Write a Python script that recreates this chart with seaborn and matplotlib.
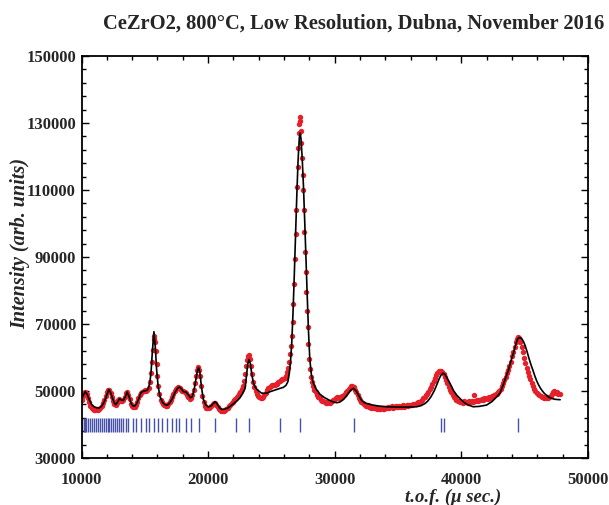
import numpy as np
import pandas as pd
import matplotlib
matplotlib.use("Agg")
import matplotlib.pyplot as plt
import seaborn as sns
from matplotlib.ticker import MultipleLocator, FixedLocator

# ---------------- data ----------------
obs_tof = [
    10000, 10100, 10200, 10300, 10400, 10500, 10600, 10700, 10800, 10900,
    11000, 11100, 11200, 11300, 11400, 11500, 11600, 11700, 11800, 11900,
    12000, 12100, 12200, 12300, 12400, 12500, 12600, 12700, 12800, 12900,
    13000, 13100, 13200, 13300, 13400, 13500, 13600, 13700, 13800, 13900,
    14000, 14100, 14200, 14300, 14400, 14500, 14600, 14700, 14800, 14900,
    15000, 15100, 15200, 15300, 15400, 15480, 15550, 15620, 15690, 15750,
    15810, 15870, 15930, 15990, 16060, 16150, 16250, 16350, 16450, 16550,
    16650, 16750, 16850, 16950, 17050, 17150, 17250, 17350, 17450, 17550,
    17650, 17750, 17850, 17950, 18050, 18150, 18250, 18350, 18450, 18550,
    18650, 18750, 18850, 18950, 19050, 19130, 19210, 19290, 19370, 19450,
    19550, 19650, 19750, 19850, 19950, 20050, 20150, 20250, 20350, 20450,
    20550, 20650, 20750, 20850, 20950, 21050, 21150, 21250, 21350, 21450,
    21550, 21650, 21750, 21850, 21950, 22050, 22150, 22250, 22350, 22450,
    22550, 22650, 22750, 22850, 22930, 23010, 23090, 23170, 23250, 23330,
    23410, 23490, 23570, 23650, 23750, 23850, 23950, 24050, 24150, 24250,
    24350, 24450, 24550, 24650, 24750, 24850, 24950, 25050, 25150, 25250,
    25350, 25450, 25550, 25650, 25750, 25850, 25950, 26050, 26150, 26250,
    26330, 26420, 26490, 26550, 26610, 26680, 26740, 26800, 26860, 26920,
    26970, 27020, 27070, 27120, 27170, 27210, 27240, 27270, 27310, 27360,
    27410, 27460, 27510, 27560, 27610, 27660, 27710, 27760, 27810, 27860,
    27920, 27980, 28050, 28130, 28210, 28300, 28400, 28500, 28600, 28700,
    28800, 28900, 29000, 29100, 29200, 29300, 29400, 29500, 29600, 29700,
    29800, 29900, 30000, 30100, 30200, 30300, 30400, 30500, 30600, 30700,
    30800, 30900, 31000, 31100, 31200, 31300, 31400, 31500, 31600, 31700,
    31800, 31900, 32000, 32100, 32200, 32300, 32400, 32500, 32600, 32700,
    32800, 32900, 33000, 33100, 33200, 33300, 33400, 33500, 33600, 33700,
    33800, 33900, 34000, 34100, 34200, 34300, 34400, 34500, 34600, 34700,
    34800, 34900, 35000, 35100, 35200, 35300, 35400, 35500, 35600, 35700,
    35800, 35900, 36000, 36100, 36200, 36300, 36400, 36500, 36600, 36700,
    36800, 36900, 37000, 37100, 37200, 37300, 37400, 37500, 37600, 37700,
    37800, 37900, 38000, 38100, 38200, 38300, 38400, 38500, 38600, 38700,
    38800, 38900, 39000, 39100, 39200, 39300, 39400, 39500, 39600, 39700,
    39800, 39900, 40000, 40100, 40200, 40300, 40400, 40500, 40600, 40700,
    40800, 40900, 41000, 41100, 41200, 41300, 41400, 41500, 41600, 41700,
    41800, 41900, 42000, 42100, 42200, 42300, 42400, 42500, 42600, 42700,
    42800, 42900, 43000, 43100, 43200, 43300, 43400, 43500, 43600, 43700,
    43800, 43900, 44000, 44100, 44200, 44300, 44400, 44480, 44560, 44650,
    44750, 44850, 44950, 45050, 45150, 45250, 45350, 45450, 45550, 45650,
    45750, 45850, 45950, 46050, 46150, 46250, 46350, 46450, 46550, 46650,
    46750, 46850, 46950, 47050, 47150, 47250, 47350, 47450, 47550, 47650,
    47750,
]
obs_int = [
    47200, 48400, 49300, 49600, 49000, 47900, 46600, 45600, 45000, 44600,
    44400, 44200, 44500, 44300, 44700, 45000, 45600, 46400, 47300, 48400,
    49600, 50400, 50200, 49300, 48100, 47000, 46200, 45800, 46500, 47400,
    47600, 47000, 46900, 47300, 48200, 49300, 49700, 48900, 47500, 46200,
    45400, 45100, 45300, 45800, 46700, 47800, 48900, 49500, 49800, 49900,
    50200, 50000, 50400, 51000, 52800, 55500, 58800, 62300, 65500, 66300,
    64700, 61800, 58000, 54500, 51400, 49000, 47400, 46600, 46000, 45700,
    45500, 45600, 46000, 46600, 47400, 48200, 49200, 50000, 50600, 51000,
    51200, 50800, 50300, 49900, 50000, 49600, 49400, 48800, 48200, 47700,
    47900, 48900, 50400, 52300, 54500, 56200, 57100, 56400, 54400, 51600,
    48600, 46600, 45500, 45000, 44800, 44900, 45200, 45600, 46100, 46500,
    46300, 45800, 45200, 44600, 44200, 44000, 44100, 43900, 44300, 44600,
    45000, 45400, 45900, 46300, 46800, 47200, 47700, 48200, 48500, 49000,
    49700, 50500, 51400, 52900, 55200, 57400, 59200, 60300, 60600, 59600,
    57600, 55000, 52800, 51200, 50000, 49100, 48600, 48300, 48000, 47900,
    48100, 48700, 49500, 50300, 50900, 51200, 51600, 51800, 51900, 51700,
    52000, 52200, 52600, 52900, 53200, 53500, 53700, 54000, 54600, 55600,
    57000, 58800, 61000, 63500, 66300, 70500, 76000, 82000, 89500, 97000,
    104000, 111000, 117000, 122500, 127000, 129800, 131800, 130600, 127500, 124000,
    119500, 114500, 110000, 104000, 97500, 91500, 85500, 79500, 74000, 69000,
    64000, 59500, 56600, 54300, 52700, 51400, 50400, 49600, 48900, 48300,
    47800, 47400, 47100, 46900, 46700, 46500, 46400, 46600, 46500, 46800,
    47000, 47300, 47600, 47900, 48100, 48000, 48300, 48200, 48600, 48900,
    49200, 49600, 50000, 50500, 51000, 51400, 51500, 51100, 50400, 49600,
    48700, 47900, 47200, 46700, 46300, 46000, 45900, 45600, 45700, 45300,
    45200, 45000, 44900, 45200, 44800, 44600, 44900, 44600, 44500, 44900,
    44700, 44600, 45000, 44800, 45300, 44900, 45100, 45400, 45000, 45200,
    45500, 45100, 45300, 45600, 45200, 45400, 45700, 45300, 45600, 45800,
    45500, 45700, 45900, 45800, 46000, 46200, 46100, 46400, 46600, 46800,
    47100, 47400, 47800, 48200, 48700, 49200, 49800, 50500, 51300, 52200,
    53100, 54000, 54800, 55400, 55900, 56100, 56000, 55600, 55000, 54200,
    53300, 52300, 51300, 50400, 49600, 48900, 48300, 47800, 47400, 47100,
    46900, 46700, 46800, 46500, 46900, 46600, 46800, 46500, 47000, 46700,
    47100, 46800, 48800, 47000, 47300, 46900, 47400, 47200, 47600, 47300,
    47800, 47500, 47900, 47700, 48200, 48000, 48500, 48400, 48800, 49000,
    49200, 49600, 50000, 50700, 51500, 52400, 53300, 54200, 55300, 56400,
    57600, 58800, 60300, 61600, 63000, 64500, 65600, 66100, 65700, 64700,
    63200, 61600, 60000, 58300, 56800, 55600, 54600, 53600, 52400, 51400,
    50600, 50000, 49500, 49100, 48900, 48600, 48300, 48100, 48000, 47900,
    48100, 47800, 48300, 48600, 49200, 49600, 49900, 49500, 49800, 49200,
    49000,
]

calc_tof = [
    10000, 10150, 10300, 10450, 10600, 10800, 11000, 11200, 11400, 11600,
    11800, 12000, 12150, 12300, 12450, 12600, 12700, 12850, 13000, 13150,
    13300, 13450, 13600, 13750, 13900, 14050, 14200, 14350, 14500, 14700,
    14900, 15100, 15250, 15400, 15500, 15600, 15720, 15830, 15930, 16050,
    16200, 16400, 16600, 16800, 17000, 17200, 17400, 17600, 17750, 17900,
    18050, 18250, 18450, 18600, 18750, 18900, 19050, 19150, 19250, 19350,
    19480, 19620, 19800, 20020, 20250, 20400, 20550, 20700, 20900, 21080,
    21300, 21550, 21800, 22100, 22350, 22550, 22750, 22920, 23030, 23130,
    23230, 23330, 23450, 23580, 23710, 23850, 24000, 24200, 24450, 24650,
    24900, 25200, 25450, 25700, 25950, 26150, 26300, 26400, 26500, 26600,
    26700, 26800, 26900, 27000, 27100, 27200, 27260, 27330, 27430, 27530,
    27630, 27730, 27830, 27930, 28030, 28150, 28310, 28550, 28840, 29200,
    29600, 29900, 30160, 30400, 30700, 31000, 31250, 31470, 31700, 31900,
    32100, 32300, 32500, 33000, 33500, 34080, 35000, 35800, 36460, 36800,
    37100, 37350, 37600, 37850, 38050, 38250, 38400, 38550, 38700, 38850,
    39100, 39400, 39650, 39880, 40200, 40500, 40930, 41400, 41990, 42400,
    42700, 43040, 43300, 43500, 43720, 43900, 44110, 44300, 44450, 44600,
    44750, 44900, 45050, 45200, 45350, 45500, 45650, 45800, 45950, 46100,
    46250, 46400, 46550, 46700, 46850, 47000, 47200, 47450, 47800,
]
calc_int = [
    47500, 48800, 49800, 49000, 47500, 46000, 45300, 45000, 44900, 45500,
    46800, 48800, 50400, 49500, 47800, 46400, 45900, 46700, 47700, 47300,
    47200, 48200, 49700, 48400, 46500, 45600, 45500, 46200, 47500, 49500,
    50000, 50100, 50500, 52500, 56000, 62000, 67700, 63000, 56500, 51500,
    48300, 46600, 45900, 45800, 46600, 48000, 49700, 50900, 51200, 50600,
    49800, 49700, 48800, 48000, 48300, 50500, 53800, 56000, 57000, 55500,
    51000, 47500, 45900, 45200, 45600, 46200, 46800, 46200, 45000, 44500,
    44600, 44900, 45600, 46500, 47300, 48200, 49400, 50800, 54500, 58000,
    59400, 58200, 55000, 52300, 51200, 50500, 50000, 49400, 49300, 49400,
    49800, 50200, 50500, 50800, 51100, 51700, 52800, 55000, 58500, 64000,
    73000, 84000, 96000, 108000, 118500, 125500, 127000, 125500, 119500, 111000,
    100500, 89000, 78000, 67500, 59500, 55000, 52300, 50500, 49000, 48000,
    47200, 46700, 46500, 46700, 47500, 48900, 50200, 50800, 50000, 48600,
    47300, 46600, 46300, 45800, 45500, 45300, 45200, 45200, 45300, 45600,
    46200, 47000, 48300, 50000, 51800, 53700, 54800, 55300, 55000, 54000,
    52300, 50000, 48700, 47800, 46600, 45900, 45300, 45400, 45800, 46800,
    47900, 49300, 51800, 54000, 56300, 58800, 61300, 64000, 65600, 66000,
    65700, 64800, 63400, 61600, 59600, 57800, 56200, 54500, 53000, 51800,
    50800, 50000, 49300, 48800, 48300, 48000, 47700, 47500, 47400,
]

bragg_tof = [
    10050, 10160, 10260, 10390, 10550, 10680, 10840, 11000, 11160, 11320,
    11450, 11580, 11740, 11900, 12060, 12190, 12320, 12480, 12640, 12790,
    12950, 13110, 13270, 13500, 13660, 14060, 14320, 14720, 15060, 15350,
    15690, 16010, 16380, 16750, 17140, 17490, 17690, 18220, 18670, 19250,
    20510, 22230, 23230, 25650, 27230, 31530, 38430, 38640, 44490,
]
bragg_low, bragg_high = 37800, 41900

y_major_ticks = [30000, 50000, 70000, 90000, 110000, 130000, 150000]
x_major_ticks = [10000, 20000, 30000, 40000, 50000]

title = "CeZrO2, 800\u00b0C, Low Resolution, Dubna, November 2016"
xlabel = "t.o.f. (\u03bc sec.)"
ylabel = "Intensity (arb. units)"

# ---------------- plotting ----------------
sns.set_style("ticks")
plt.rcParams["font.family"] = ["Liberation Serif", "DejaVu Serif"]

obs = pd.DataFrame({"tof": obs_tof, "intensity": obs_int})
calc = pd.DataFrame({"tof": calc_tof, "intensity": calc_int})

fig = plt.figure(figsize=(6.09, 5.05), dpi=100)
ax = fig.add_axes([81.5 / 609, 47 / 505, (588 - 81.5) / 609, 402 / 505])

sns.scatterplot(data=obs, x="tof", y="intensity", ax=ax, color="#e5202a",
                s=15, marker="o", linewidth=0, zorder=2, legend=False)
sns.lineplot(data=calc, x="tof", y="intensity", ax=ax, color="black",
             lw=1.2, sort=False, estimator=None, zorder=3, legend=False)
ax.vlines(bragg_tof, bragg_low, bragg_high, colors="#4652a8", lw=1.0, zorder=1)

ax.set_xlim(10000, 50000)
ax.set_ylim(30000, 150000)
ax.xaxis.set_major_locator(FixedLocator(x_major_ticks))
ax.xaxis.set_minor_locator(MultipleLocator(2000))
ax.yaxis.set_major_locator(FixedLocator(y_major_ticks))
ax.yaxis.set_minor_locator(FixedLocator(list(range(30000, 150001, 4000))))
ax.tick_params(which="both", direction="in", top=True, right=True,
               width=1.0, color="black")
ax.tick_params(which="major", length=5, labelsize=12)
ax.tick_params(which="minor", length=3)
ax.tick_params(axis="x", which="major", pad=10)
ax.tick_params(axis="y", which="major", pad=4)
for lab in ax.get_xticklabels() + ax.get_yticklabels():
    lab.set_fontweight("bold")
for sp in ax.spines.values():
    sp.set_linewidth(1.3)
    sp.set_color("black")

ax.set_xlabel("")
ax.set_ylabel("")
fig.text(453 / 609, 1 - 497 / 505, xlabel, ha="center", va="center",
         fontsize=13.5, fontweight="bold", fontstyle="italic")
fig.text(20 / 609, 1 - 243 / 505, ylabel, ha="center", va="center",
         rotation=90, fontsize=14.5, fontweight="bold", fontstyle="italic")
fig.text(604 / 609, 1 - 24 / 505, title, ha="right", va="center",
         fontsize=14.8, fontweight="bold")

fig.savefig("out.png", dpi=100)
